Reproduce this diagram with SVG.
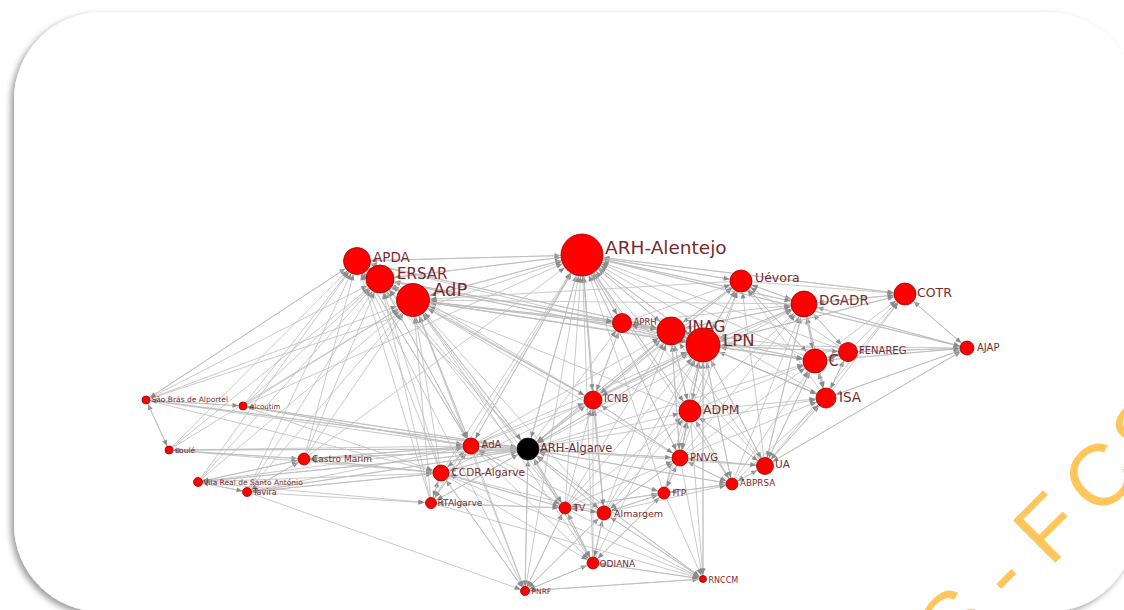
<svg xmlns="http://www.w3.org/2000/svg" width="1124" height="610" viewBox="0 0 1124 610">
  <defs>
    <filter id="sh" x="-5%" y="-5%" width="110%" height="110%">
      <feDropShadow dx="-3" dy="3" stdDeviation="3" flood-color="#000" flood-opacity="0.4"/>
    </filter>
    <!-- arrowheads: tip placed on the rim of a target node of the given radius -->
    <marker id="m4" markerUnits="userSpaceOnUse" markerWidth="6" markerHeight="5" refX="10.5" refY="2.5" orient="auto" overflow="visible"><path d="M0,0 L6,2.5 L0,5 Z" fill="#8c8c8c"/></marker>
    <marker id="m6" markerUnits="userSpaceOnUse" markerWidth="6" markerHeight="5" refX="12.5" refY="2.5" orient="auto" overflow="visible"><path d="M0,0 L6,2.5 L0,5 Z" fill="#8c8c8c"/></marker>
    <marker id="m7" markerUnits="userSpaceOnUse" markerWidth="6" markerHeight="5" refX="13.5" refY="2.5" orient="auto" overflow="visible"><path d="M0,0 L6,2.5 L0,5 Z" fill="#8c8c8c"/></marker>
    <marker id="m8" markerUnits="userSpaceOnUse" markerWidth="6" markerHeight="5" refX="14.8" refY="2.5" orient="auto" overflow="visible"><path d="M0,0 L6,2.5 L0,5 Z" fill="#8c8c8c"/></marker>
    <marker id="m9" markerUnits="userSpaceOnUse" markerWidth="6" markerHeight="5" refX="15.8" refY="2.5" orient="auto" overflow="visible"><path d="M0,0 L6,2.5 L0,5 Z" fill="#8c8c8c"/></marker>
    <marker id="m10" markerUnits="userSpaceOnUse" markerWidth="6" markerHeight="5" refX="16.5" refY="2.5" orient="auto" overflow="visible"><path d="M0,0 L6,2.5 L0,5 Z" fill="#8c8c8c"/></marker>
    <marker id="m11" markerUnits="userSpaceOnUse" markerWidth="6" markerHeight="5" refX="17.5" refY="2.5" orient="auto" overflow="visible"><path d="M0,0 L6,2.5 L0,5 Z" fill="#8c8c8c"/></marker>
    <marker id="m12" markerUnits="userSpaceOnUse" markerWidth="6" markerHeight="5" refX="18.5" refY="2.5" orient="auto" overflow="visible"><path d="M0,0 L6,2.5 L0,5 Z" fill="#8c8c8c"/></marker>
    <marker id="m13" markerUnits="userSpaceOnUse" markerWidth="6" markerHeight="5" refX="19.8" refY="2.5" orient="auto" overflow="visible"><path d="M0,0 L6,2.5 L0,5 Z" fill="#8c8c8c"/></marker>
    <marker id="m14" markerUnits="userSpaceOnUse" markerWidth="6" markerHeight="5" refX="20.5" refY="2.5" orient="auto" overflow="visible"><path d="M0,0 L6,2.5 L0,5 Z" fill="#8c8c8c"/></marker>
    <marker id="m17" markerUnits="userSpaceOnUse" markerWidth="6" markerHeight="5" refX="23.5" refY="2.5" orient="auto" overflow="visible"><path d="M0,0 L6,2.5 L0,5 Z" fill="#8c8c8c"/></marker>
    <marker id="m21" markerUnits="userSpaceOnUse" markerWidth="6" markerHeight="5" refX="27.5" refY="2.5" orient="auto" overflow="visible"><path d="M0,0 L6,2.5 L0,5 Z" fill="#8c8c8c"/></marker>
    <style>
      .edges path { fill: none; stroke: #bdbdbd; stroke-width: 0.8; }
      .node circle { fill: #ff0000; stroke: #a00000; stroke-width: 0.8; }
      .node text { font-family: "DejaVu Sans", Verdana, sans-serif; fill: #7a2a30; }
      .wm { font-family: "Liberation Sans", Arial, sans-serif; fill: #ffc65c; font-size: 87px; }
    </style>
  </defs>

  <rect x="0" y="0" width="1124" height="610" fill="#ffffff"/>
  <!-- rounded card with soft shadow -->
  <rect x="14" y="12" width="1122" height="600" rx="88" ry="88" fill="#ffffff" filter="url(#sh)"/>

  <g id="connectors" class="edges">
    <!-- into ARH-Alentejo -->
    <g marker-end="url(#m21)">
      <path d="M357 261 582 255"/><path d="M380 279 582 255"/><path d="M413 300 582 255"/><path d="M671 331 582 255"/>
      <path d="M703 345 582 255"/><path d="M622 323 582 255"/><path d="M593 400 582 255"/><path d="M690 411 582 255"/>
      <path d="M528 449 582 255"/><path d="M471 446 582 255"/><path d="M441 473 582 255"/><path d="M680 458 582 255"/>
      <path d="M565 508 582 255"/><path d="M604 513 582 255"/><path d="M593 563 582 255"/><path d="M525 591 582 255"/>
      <path d="M146 400 582 255"/><path d="M243 406 582 255"/><path d="M804 304 582 255"/><path d="M741 281 582 255"/>
      <path d="M905 294 582 255"/><path d="M848 352 582 255"/><path d="M815 361 582 255"/><path d="M826 398 582 255"/>
      <path d="M765 466 582 255"/><path d="M732 484 582 255"/><path d="M664 493 582 255"/><path d="M967 348 582 255"/>
      <path d="M431 503 582 255"/><path d="M304 459 582 255"/>
    </g>
    <!-- into AdP -->
    <g marker-end="url(#m17)">
      <path d="M357 261 413 300"/><path d="M380 279 413 300"/><path d="M582 255 413 300"/><path d="M671 331 413 300"/>
      <path d="M703 345 413 300"/><path d="M622 323 413 300"/><path d="M593 400 413 300"/><path d="M690 411 413 300"/>
      <path d="M528 449 413 300"/><path d="M471 446 413 300"/><path d="M441 473 413 300"/><path d="M431 503 413 300"/>
      <path d="M304 459 413 300"/><path d="M146 400 413 300"/><path d="M243 406 413 300"/><path d="M169 450 413 300"/>
      <path d="M198 482 413 300"/><path d="M247 492 413 300"/><path d="M680 458 413 300"/><path d="M565 508 413 300"/>
      <path d="M604 513 413 300"/><path d="M593 563 413 300"/><path d="M804 304 413 300"/><path d="M741 281 413 300"/>
      <path d="M815 361 413 300"/><path d="M525 591 413 300"/>
    </g>
    <!-- into ERSAR -->
    <g marker-end="url(#m14)">
      <path d="M357 261 380 279"/><path d="M413 300 380 279"/><path d="M582 255 380 279"/><path d="M146 400 380 279"/>
      <path d="M243 406 380 279"/><path d="M169 450 380 279"/><path d="M304 459 380 279"/><path d="M198 482 380 279"/>
      <path d="M247 492 380 279"/><path d="M471 446 380 279"/><path d="M528 449 380 279"/><path d="M441 473 380 279"/>
      <path d="M431 503 380 279"/><path d="M671 331 380 279"/><path d="M703 345 380 279"/><path d="M565 508 380 279"/>
      <path d="M593 400 380 279"/>
    </g>
    <!-- into APDA -->
    <g marker-end="url(#m13)">
      <path d="M146 400 357 261"/><path d="M243 406 357 261"/><path d="M169 450 357 261"/><path d="M304 459 357 261"/>
      <path d="M198 482 357 261"/><path d="M247 492 357 261"/><path d="M471 446 357 261"/><path d="M528 449 357 261"/>
      <path d="M441 473 357 261"/><path d="M431 503 357 261"/><path d="M380 279 357 261"/><path d="M413 300 357 261"/>
      <path d="M671 331 357 261"/><path d="M703 345 357 261"/><path d="M593 400 357 261"/><path d="M525 591 357 261"/>
      <path d="M582 255 357 261"/>
    </g>
    <!-- into LPN -->
    <g marker-end="url(#m17)">
      <path d="M582 255 703 345"/><path d="M671 331 703 345"/><path d="M622 323 703 345"/><path d="M804 304 703 345"/>
      <path d="M741 281 703 345"/><path d="M815 361 703 345"/><path d="M848 352 703 345"/><path d="M826 398 703 345"/>
      <path d="M690 411 703 345"/><path d="M680 458 703 345"/><path d="M765 466 703 345"/><path d="M732 484 703 345"/>
      <path d="M664 493 703 345"/><path d="M593 400 703 345"/><path d="M528 449 703 345"/><path d="M471 446 703 345"/>
      <path d="M441 473 703 345"/><path d="M565 508 703 345"/><path d="M604 513 703 345"/><path d="M593 563 703 345"/>
      <path d="M703 579 703 345"/><path d="M413 300 703 345"/><path d="M905 294 703 345"/><path d="M967 348 703 345"/>
      <path d="M380 279 703 345"/>
    </g>
    <!-- into INAG -->
    <g marker-end="url(#m14)">
      <path d="M582 255 671 331"/><path d="M703 345 671 331"/><path d="M622 323 671 331"/><path d="M804 304 671 331"/>
      <path d="M741 281 671 331"/><path d="M815 361 671 331"/><path d="M826 398 671 331"/><path d="M690 411 671 331"/>
      <path d="M680 458 671 331"/><path d="M593 400 671 331"/><path d="M528 449 671 331"/><path d="M471 446 671 331"/>
      <path d="M565 508 671 331"/><path d="M604 513 671 331"/><path d="M413 300 671 331"/><path d="M380 279 671 331"/>
      <path d="M357 261 671 331"/><path d="M848 352 671 331"/><path d="M765 466 671 331"/>
    </g>
    <!-- into DGADR -->
    <g marker-end="url(#m13)">
      <path d="M582 255 804 304"/><path d="M741 281 804 304"/><path d="M905 294 804 304"/><path d="M848 352 804 304"/>
      <path d="M967 348 804 304"/><path d="M815 361 804 304"/><path d="M826 398 804 304"/><path d="M703 345 804 304"/>
      <path d="M671 331 804 304"/><path d="M690 411 804 304"/><path d="M680 458 804 304"/><path d="M765 466 804 304"/>
      <path d="M732 484 804 304"/><path d="M528 449 804 304"/><path d="M593 400 804 304"/><path d="M622 323 804 304"/>
    </g>
    <!-- into Uévora -->
    <g marker-end="url(#m11)">
      <path d="M582 255 741 281"/><path d="M804 304 741 281"/><path d="M703 345 741 281"/><path d="M671 331 741 281"/>
      <path d="M622 323 741 281"/><path d="M815 361 741 281"/><path d="M826 398 741 281"/><path d="M690 411 741 281"/>
      <path d="M765 466 741 281"/><path d="M528 449 741 281"/><path d="M680 458 741 281"/><path d="M593 400 741 281"/>
      <path d="M848 352 741 281"/>
    </g>
    <!-- into COTR -->
    <g marker-end="url(#m11)">
      <path d="M804 304 905 294"/><path d="M848 352 905 294"/><path d="M967 348 905 294"/><path d="M815 361 905 294"/>
      <path d="M826 398 905 294"/><path d="M703 345 905 294"/><path d="M741 281 905 294"/><path d="M582 255 905 294"/>
      <path d="M765 466 905 294"/>
    </g>
    <!-- into C -->
    <g marker-end="url(#m12)">
      <path d="M804 304 815 361"/><path d="M703 345 815 361"/><path d="M848 352 815 361"/><path d="M967 348 815 361"/>
      <path d="M826 398 815 361"/><path d="M741 281 815 361"/><path d="M690 411 815 361"/><path d="M765 466 815 361"/>
      <path d="M528 449 815 361"/><path d="M680 458 815 361"/><path d="M671 331 815 361"/><path d="M732 484 815 361"/>
    </g>
    <!-- into FENAREG -->
    <g marker-end="url(#m9)">
      <path d="M967 348 848 352"/><path d="M804 304 848 352"/><path d="M815 361 848 352"/><path d="M826 398 848 352"/>
      <path d="M703 345 848 352"/>
    </g>
    <!-- into AJAP -->
    <g marker-end="url(#m7)">
      <path d="M804 304 967 348"/><path d="M848 352 967 348"/><path d="M905 294 967 348"/><path d="M826 398 967 348"/>
      <path d="M815 361 967 348"/><path d="M582 255 967 348"/><path d="M765 466 967 348"/>
    </g>
    <!-- into ISA -->
    <g marker-end="url(#m10)">
      <path d="M815 361 826 398"/><path d="M804 304 826 398"/><path d="M703 345 826 398"/><path d="M765 466 826 398"/>
      <path d="M690 411 826 398"/><path d="M528 449 826 398"/><path d="M680 458 826 398"/><path d="M671 331 826 398"/>
      <path d="M848 352 826 398"/><path d="M732 484 826 398"/><path d="M967 348 826 398"/>
    </g>
    <!-- into APRH -->
    <g marker-end="url(#m9)">
      <path d="M582 255 622 323"/><path d="M671 331 622 323"/><path d="M703 345 622 323"/><path d="M413 300 622 323"/>
      <path d="M380 279 622 323"/><path d="M528 449 622 323"/><path d="M593 400 622 323"/>
    </g>
    <!-- into ICNB -->
    <g marker-end="url(#m9)">
      <path d="M582 255 593 400"/><path d="M528 449 593 400"/><path d="M471 446 593 400"/><path d="M671 331 593 400"/>
      <path d="M703 345 593 400"/><path d="M565 508 593 400"/><path d="M604 513 593 400"/><path d="M680 458 593 400"/>
      <path d="M593 563 593 400"/><path d="M622 323 593 400"/><path d="M413 300 593 400"/>
    </g>
    <!-- into ADPM -->
    <g marker-end="url(#m11)">
      <path d="M582 255 690 411"/><path d="M703 345 690 411"/><path d="M671 331 690 411"/><path d="M680 458 690 411"/>
      <path d="M765 466 690 411"/><path d="M732 484 690 411"/><path d="M528 449 690 411"/><path d="M565 508 690 411"/>
      <path d="M664 493 690 411"/><path d="M604 513 690 411"/>
    </g>
    <!-- into ARH-Algarve -->
    <g marker-end="url(#m11)">
      <path d="M471 446 528 449"/><path d="M441 473 528 449"/><path d="M431 503 528 449"/><path d="M304 459 528 449"/>
      <path d="M146 400 528 449"/><path d="M243 406 528 449"/><path d="M169 450 528 449"/><path d="M198 482 528 449"/>
      <path d="M247 492 528 449"/><path d="M565 508 528 449"/><path d="M604 513 528 449"/><path d="M593 563 528 449"/>
      <path d="M525 591 528 449"/><path d="M680 458 528 449"/><path d="M593 400 528 449"/><path d="M582 255 528 449"/>
      <path d="M413 300 528 449"/><path d="M703 345 528 449"/><path d="M671 331 528 449"/><path d="M664 493 528 449"/>
      <path d="M732 484 528 449"/><path d="M765 466 528 449"/><path d="M703 579 528 449"/>
    </g>
    <!-- into AdA -->
    <g marker-end="url(#m8)">
      <path d="M528 449 471 446"/><path d="M441 473 471 446"/><path d="M304 459 471 446"/><path d="M146 400 471 446"/>
      <path d="M243 406 471 446"/><path d="M169 450 471 446"/><path d="M198 482 471 446"/><path d="M247 492 471 446"/>
      <path d="M431 503 471 446"/><path d="M413 300 471 446"/><path d="M582 255 471 446"/><path d="M380 279 471 446"/>
      <path d="M357 261 471 446"/><path d="M565 508 471 446"/><path d="M604 513 471 446"/>
    </g>
    <!-- into CCDR-Algarve -->
    <g marker-end="url(#m8)">
      <path d="M528 449 441 473"/><path d="M471 446 441 473"/><path d="M431 503 441 473"/><path d="M304 459 441 473"/>
      <path d="M169 450 441 473"/><path d="M198 482 441 473"/><path d="M247 492 441 473"/><path d="M146 400 441 473"/>
      <path d="M243 406 441 473"/><path d="M565 508 441 473"/><path d="M525 591 441 473"/><path d="M604 513 441 473"/>
    </g>
    <!-- into Castro Marim -->
    <g marker-end="url(#m6)">
      <path d="M528 449 304 459"/><path d="M471 446 304 459"/><path d="M441 473 304 459"/><path d="M198 482 304 459"/>
      <path d="M247 492 304 459"/><path d="M169 450 304 459"/>
    </g>
    <!-- into PNVG -->
    <g marker-end="url(#m8)">
      <path d="M528 449 680 458"/><path d="M703 345 680 458"/><path d="M671 331 680 458"/><path d="M690 411 680 458"/>
      <path d="M582 255 680 458"/><path d="M664 493 680 458"/><path d="M732 484 680 458"/><path d="M565 508 680 458"/>
      <path d="M604 513 680 458"/><path d="M765 466 680 458"/><path d="M593 400 680 458"/>
    </g>
    <!-- into UA -->
    <g marker-end="url(#m8)">
      <path d="M826 398 765 466"/><path d="M815 361 765 466"/><path d="M703 345 765 466"/><path d="M804 304 765 466"/>
      <path d="M732 484 765 466"/><path d="M690 411 765 466"/><path d="M967 348 765 466"/><path d="M680 458 765 466"/>
    </g>
    <!-- into ABPRSA -->
    <g marker-end="url(#m6)">
      <path d="M765 466 732 484"/><path d="M680 458 732 484"/><path d="M664 493 732 484"/><path d="M703 345 732 484"/>
      <path d="M690 411 732 484"/><path d="M528 449 732 484"/><path d="M604 513 732 484"/>
    </g>
    <!-- into ITP -->
    <g marker-end="url(#m6)">
      <path d="M528 449 664 493"/><path d="M680 458 664 493"/><path d="M565 508 664 493"/><path d="M604 513 664 493"/>
      <path d="M732 484 664 493"/><path d="M593 563 664 493"/>
    </g>
    <!-- into RTAlgarve -->
    <g marker-end="url(#m6)">
      <path d="M441 473 431 503"/><path d="M528 449 431 503"/><path d="M471 446 431 503"/><path d="M247 492 431 503"/>
      <path d="M198 482 431 503"/><path d="M565 508 431 503"/>
    </g>
    <!-- into TV -->
    <g marker-end="url(#m6)">
      <path d="M528 449 565 508"/><path d="M604 513 565 508"/><path d="M593 563 565 508"/><path d="M525 591 565 508"/>
      <path d="M441 473 565 508"/><path d="M431 503 565 508"/><path d="M471 446 565 508"/><path d="M664 493 565 508"/>
    </g>
    <!-- into Almargem -->
    <g marker-end="url(#m7)">
      <path d="M565 508 604 513"/><path d="M528 449 604 513"/><path d="M593 563 604 513"/><path d="M525 591 604 513"/>
      <path d="M703 579 604 513"/><path d="M664 493 604 513"/><path d="M680 458 604 513"/><path d="M593 400 604 513"/>
    </g>
    <!-- into ODIANA -->
    <g marker-end="url(#m6)">
      <path d="M565 508 593 563"/><path d="M604 513 593 563"/><path d="M528 449 593 563"/><path d="M525 591 593 563"/>
      <path d="M703 579 593 563"/><path d="M664 493 593 563"/><path d="M441 473 593 563"/><path d="M471 446 593 563"/>
    </g>
    <!-- into RNCCM -->
    <g marker-end="url(#m4)">
      <path d="M604 513 703 579"/><path d="M565 508 703 579"/><path d="M593 563 703 579"/><path d="M525 591 703 579"/>
      <path d="M680 458 703 579"/><path d="M664 493 703 579"/><path d="M703 345 703 579"/><path d="M690 411 703 579"/>
      <path d="M528 449 703 579"/><path d="M441 473 703 579"/><path d="M431 503 703 579"/>
    </g>
    <!-- into PNRF -->
    <g marker-end="url(#m4)">
      <path d="M528 449 525 591"/><path d="M565 508 525 591"/><path d="M604 513 525 591"/><path d="M593 563 525 591"/>
      <path d="M703 579 525 591"/><path d="M441 473 525 591"/><path d="M471 446 525 591"/><path d="M247 492 525 591"/>
    </g>
    <!-- into the small Algarve municipalities -->
    <g marker-end="url(#m4)">
      <path d="M169 450 146 400"/><path d="M243 406 146 400"/><path d="M528 449 146 400"/><path d="M357 261 146 400"/>
      <path d="M528 449 243 406"/><path d="M471 446 243 406"/><path d="M146 400 243 406"/>
      <path d="M146 400 169 450"/><path d="M528 449 169 450"/><path d="M304 459 169 450"/>
      <path d="M247 492 198 482"/><path d="M304 459 198 482"/><path d="M528 449 198 482"/>
      <path d="M198 482 247 492"/><path d="M304 459 247 492"/><path d="M528 449 247 492"/><path d="M441 473 247 492"/>
    </g>
  </g>

  <g id="nodes">
    <g id="n-apda" class="node"><circle cx="357" cy="261" r="13.5"/><text x="373" y="262" font-size="13.5">APDA</text></g>
    <g id="n-ersar" class="node"><circle cx="380" cy="279" r="14"/><text x="397" y="278.5" font-size="15">ERSAR</text></g>
    <g id="n-adp" class="node"><circle cx="413" cy="300" r="16.5"/><text x="433" y="295.5" font-size="18">AdP</text></g>
    <g id="n-arh-alentejo" class="node"><circle cx="582" cy="255" r="21"/><text x="605" y="253.5" font-size="18.5">ARH-Alentejo</text></g>
    <g id="n-uevora" class="node"><circle cx="741" cy="281" r="11"/><text x="755" y="282" font-size="12.5">Uévora</text></g>
    <g id="n-dgadr" class="node"><circle cx="804" cy="304" r="13"/><text x="819" y="304.5" font-size="13.5">DGADR</text></g>
    <g id="n-cotr" class="node"><circle cx="905" cy="294" r="11"/><text x="917" y="297" font-size="12.5">COTR</text></g>
    <g id="n-aprh" class="node"><circle cx="622" cy="323" r="9.5"/><text x="633.5" y="324.5" font-size="8.5">APRH</text></g>
    <g id="n-inag" class="node"><circle cx="671" cy="331" r="14"/><text x="688" y="332" font-size="15">INAG</text></g>
    <g id="n-lpn" class="node"><circle cx="703" cy="345" r="17"/><text x="723" y="346" font-size="16.5">LPN</text></g>
    <g id="n-c" class="node"><circle cx="815" cy="361" r="12"/><text x="828.5" y="366" font-size="15">C</text></g>
    <g id="n-fenareg" class="node"><circle cx="848" cy="352" r="9.5"/><text x="859" y="353.5" font-size="10">FENAREG</text></g>
    <g id="n-ajap" class="node"><circle cx="967" cy="348" r="7"/><text x="977" y="351" font-size="10">AJAP</text></g>
    <g id="n-isa" class="node"><circle cx="826" cy="398" r="10"/><text x="839" y="402" font-size="13.5">ISA</text></g>
    <g id="n-icnb" class="node"><circle cx="593" cy="400" r="9"/><text x="604" y="402" font-size="10">ICNB</text></g>
    <g id="n-adpm" class="node"><circle cx="690" cy="411" r="11"/><text x="703" y="413.5" font-size="12.5">ADPM</text></g>
    <g id="n-sao-bras" class="node"><circle cx="146" cy="400" r="4"/><text x="151.5" y="402" font-size="7.5">São Brás de Alportel</text></g>
    <g id="n-alcoutim" class="node"><circle cx="243" cy="406" r="4"/><text x="249.5" y="408.5" font-size="7">Alcoutim</text></g>
    <g id="n-loule" class="node"><circle cx="169" cy="450" r="4"/><text x="175" y="452.5" font-size="7.5">Loulé</text></g>
    <g id="n-ada" class="node"><circle cx="471" cy="446" r="8"/><text x="481.5" y="447.5" font-size="10">AdA</text></g>
    <g id="n-arh-algarve" class="node"><circle cx="528" cy="449" r="11" style="fill:#000;stroke:#222"/><text x="540" y="451.5" font-size="11.5">ARH-Algarve</text></g>
    <g id="n-castro-marim" class="node"><circle cx="304" cy="459" r="6"/><text x="312" y="462" font-size="9">Castro Marim</text></g>
    <g id="n-ccdr" class="node"><circle cx="441" cy="473" r="8"/><text x="451.5" y="475.5" font-size="10.5">CCDR-Algarve</text></g>
    <g id="n-pnvg" class="node"><circle cx="680" cy="458" r="8"/><text x="690" y="460.5" font-size="10">PNVG</text></g>
    <g id="n-ua" class="node"><circle cx="765" cy="466" r="8.5"/><text x="775" y="468" font-size="10.5">UA</text></g>
    <g id="n-vrsa" class="node"><circle cx="198" cy="482" r="4.5"/><text x="203.5" y="484.5" font-size="7.5">Vila Real de Santo António</text></g>
    <g id="n-tavira" class="node"><circle cx="247" cy="492" r="4.5"/><text x="253" y="495" font-size="8">Tavira</text></g>
    <g id="n-abprsa" class="node"><circle cx="732" cy="484" r="6"/><text x="740" y="486" font-size="8.8">ABPRSA</text></g>
    <g id="n-itp" class="node"><circle cx="664" cy="493" r="6"/><text x="672.5" y="495.5" font-size="9">ITP</text></g>
    <g id="n-rtalgarve" class="node"><circle cx="431" cy="503" r="5.5"/><text x="437.5" y="506" font-size="9">RTAlgarve</text></g>
    <g id="n-tv" class="node"><circle cx="565" cy="508" r="6"/><text x="573.5" y="510.5" font-size="9">TV</text></g>
    <g id="n-almargem" class="node"><circle cx="604" cy="513" r="7"/><text x="614" y="517" font-size="9.5">Almargem</text></g>
    <g id="n-odiana" class="node"><circle cx="593" cy="563" r="6"/><text x="599.5" y="566.5" font-size="9">ODIANA</text></g>
    <g id="n-rnccm" class="node"><circle cx="703" cy="579" r="3.5"/><text x="708.5" y="582.5" font-size="8">RNCCM</text></g>
    <g id="n-pnrf" class="node"><circle cx="525" cy="591" r="4.5"/><text x="531.5" y="594" font-size="7.5">PNRF</text></g>
  </g>

  <!-- diagonal mark in the lower right corner -->
  <text class="wm" transform="translate(954.5,663.5) rotate(-45)">S - F<tspan dx="15">C</tspan><tspan dx="6">S</tspan></text>
</svg>
